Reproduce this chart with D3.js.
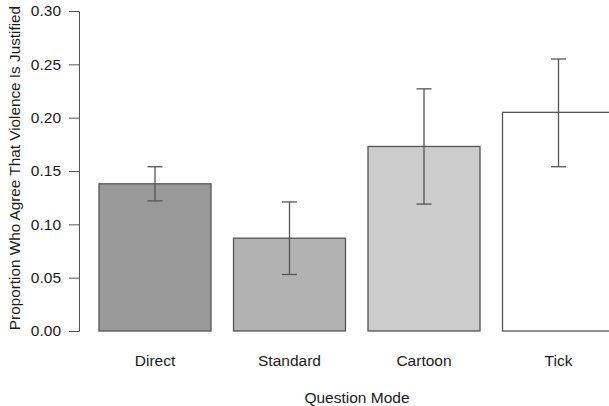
<!DOCTYPE html>
<html><head><meta charset="utf-8">
<script src="https://cdn.jsdelivr.net/npm/d3@7"></script>
<style>body{margin:0;background:#fff}svg{display:block}text{font-family:"Liberation Sans",Arial,Helvetica,sans-serif;fill:#1a1a1a}</style>
</head><body><svg id="c" width="609" height="406"></svg>
<script>
const categories = ["Direct", "Standard", "Cartoon", "Tick"];
const values = [0.138, 0.087, 0.173, 0.205];
const lower = [0.122, 0.053, 0.119, 0.154];
const upper = [0.154, 0.121, 0.227, 0.255];
const fills = ["#999999", "#b2b2b2", "#cccccc", "#ffffff"];
const yTicks = [0, 0.05, 0.10, 0.15, 0.20, 0.25, 0.30];

const svg = d3.select("#c");
const y = d3.scaleLinear().domain([0, 0.30]).range([331, 11]);
const x = d3.scaleBand().domain(categories).range([99, 614.5]).paddingInner(0.1673).paddingOuter(0);
const stroke = "#555";

// y axis
const ax = svg.append("g").attr("transform", "translate(79,0)")
  .call(d3.axisLeft(y).tickValues(yTicks).tickFormat(d3.format(".2f")).tickSizeOuter(0).tickSize(10).tickPadding(8));
ax.select(".domain").attr("stroke", stroke);
ax.selectAll(".tick line").attr("stroke", stroke);
ax.selectAll(".tick text").style("font-size", "15.5px").attr("fill", "#1a1a1a");

svg.append("text").attr("transform", "translate(20,168) rotate(-90)").attr("text-anchor", "middle")
  .style("font-size", "15.3px").text("Proportion Who Agree That Violence Is Justified");

// bars
svg.selectAll("rect.bar").data(categories).join("rect").attr("class", "bar")
  .attr("x", d => x(d)).attr("width", x.bandwidth())
  .attr("y", (d, i) => y(values[i])).attr("height", (d, i) => y(0) - y(values[i]))
  .attr("fill", (d, i) => fills[i]).attr("stroke", stroke).attr("stroke-width", 1.3);

// error bars
const cap = 7.5;
const eb = svg.selectAll("g.eb").data(categories).join("g").attr("class", "eb")
  .attr("transform", d => `translate(${x(d) + x.bandwidth() / 2},0)`);
eb.append("line").attr("y1", (d, i) => y(lower[i])).attr("y2", (d, i) => y(upper[i])).attr("stroke", stroke).attr("stroke-width", 1.3);
eb.append("line").attr("x1", -cap).attr("x2", cap).attr("y1", (d, i) => y(upper[i])).attr("y2", (d, i) => y(upper[i])).attr("stroke", stroke).attr("stroke-width", 1.3);
eb.append("line").attr("x1", -cap).attr("x2", cap).attr("y1", (d, i) => y(lower[i])).attr("y2", (d, i) => y(lower[i])).attr("stroke", stroke).attr("stroke-width", 1.3);

// x labels
svg.selectAll("text.xl").data(categories).join("text").attr("class", "xl")
  .attr("x", d => x(d) + x.bandwidth() / 2).attr("y", 366).attr("text-anchor", "middle")
  .style("font-size", "15.5px").text(d => d);

svg.append("text").attr("x", 357).attr("y", 403).attr("text-anchor", "middle").style("font-size", "15.5px").text("Question Mode");
</script></body></html>
